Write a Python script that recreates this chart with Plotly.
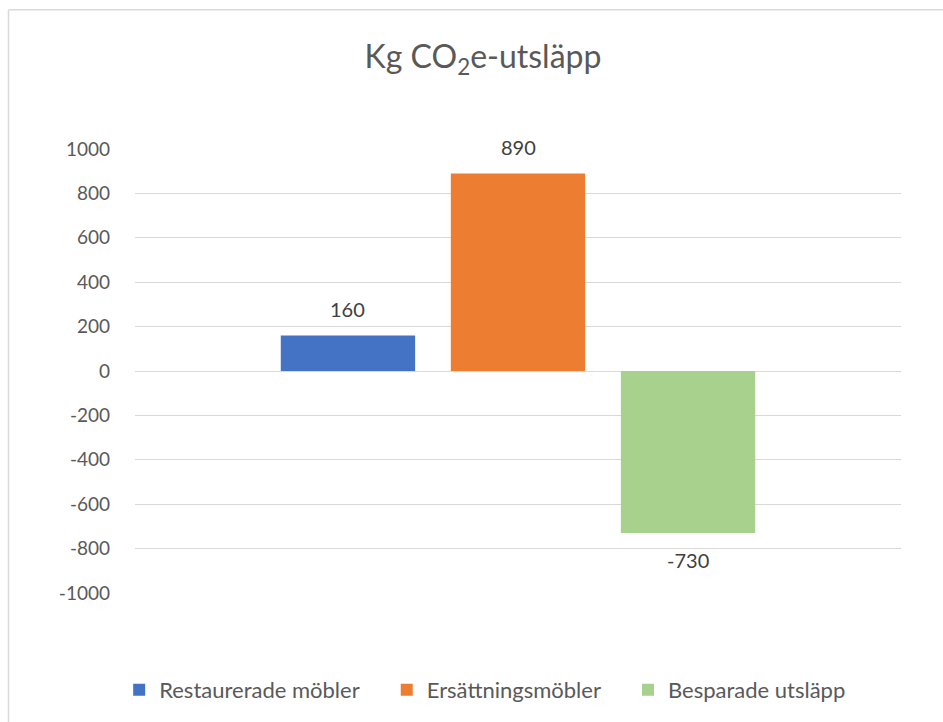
import plotly.graph_objects as go

series_names = ["Restaurerade möbler", "Ersättningsmöbler", "Besparade utsläpp"]
series_values = [160, 890, -730]
series_colors = ["#4472C4", "#ED7D31", "#A9D18E"]
tick_vals = [-1000, -800, -600, -400, -200, 0, 200, 400, 600, 800, 1000]
tick_text = [str(v) for v in tick_vals]

FONT = "Lato, Carlito, 'Open Sans', sans-serif"
TXT = "#595959"

BARGAP = 0.334
n = len(series_values)
slot = (1 - BARGAP) / n
PAD = "\u00a0" * 4

fig = go.Figure()
annotations = []
for i, (name, val, col) in enumerate(zip(series_names, series_values, series_colors)):
    fig.add_trace(go.Bar(
        x=[0], y=[val], name=name + PAD, marker=dict(color=col, line=dict(width=0)),
    ))
    xc = -(1 - BARGAP) / 2 + slot * (i + 0.5)
    annotations.append(dict(
        x=xc, y=val, xref="x", yref="y", text=str(val), showarrow=False,
        yanchor="middle", yshift=26 if val >= 0 else -27,
        font=dict(family=FONT, size=20, color="#404040"),
    ))

W, H = 943, 722
ml, mr, mt, mb = 135, 42, 149, 128
pw, ph = W - ml - mr, H - mt - mb

def px_x(x):
    return (x - ml) / pw

def px_y(y):
    return (H - mb - y) / ph

fig.update_layout(
    width=W, height=H,
    margin=dict(l=ml, r=mr, t=mt, b=mb),
    paper_bgcolor="white", plot_bgcolor="white",
    barmode="group", bargap=BARGAP, bargroupgap=0.21,
    font=dict(family=FONT, color=TXT),
    title=dict(text="Kg CO<sub>2</sub>e-utsläpp", x=px_x(483), xref="paper", xanchor="center",
               y=1 - 57 / H, yanchor="middle", font=dict(family=FONT, size=32, color=TXT)),
    showlegend=True,
    legend=dict(orientation="h", x=px_x(123) - 0.005, xanchor="left", y=px_y(690), yanchor="middle",
                font=dict(family=FONT, size=22, color=TXT), itemwidth=30,
                traceorder="normal"),
    annotations=annotations,
    xaxis=dict(type="linear", range=[-0.5, 0.5], showticklabels=False, showgrid=False,
               showline=False, zeroline=False),
    yaxis=dict(range=[-1000, 1000], tickvals=tick_vals, ticktext=tick_text, showgrid=True,
               gridcolor="#D9D9D9", gridwidth=1.3, zeroline=True, zerolinecolor="#D9D9D9",
               zerolinewidth=1.3, showline=False, ticks="", ticklabelstandoff=24,
               tickfont=dict(family=FONT, size=19, color=TXT)),
    shapes=[
        dict(type="line", xref="paper", yref="paper", x0=px_x(8.5), x1=px_x(8.5),
             y0=px_y(9.5), y1=px_y(730), line=dict(color="#D9D9D9", width=1.5)),
        dict(type="line", xref="paper", yref="paper", x0=px_x(8.5), x1=px_x(950),
             y0=px_y(9.5), y1=px_y(9.5), line=dict(color="#D9D9D9", width=1.5)),
    ],
)

fig.write_html("out.html", config={"displayModeBar": False})
with open("out.html", encoding="utf-8") as f:
    html = f.read()
html = html.replace("<body>", "<body style=\"margin:0;overflow:hidden\">", 1)
with open("out.html", "w", encoding="utf-8") as f:
    f.write(html)
